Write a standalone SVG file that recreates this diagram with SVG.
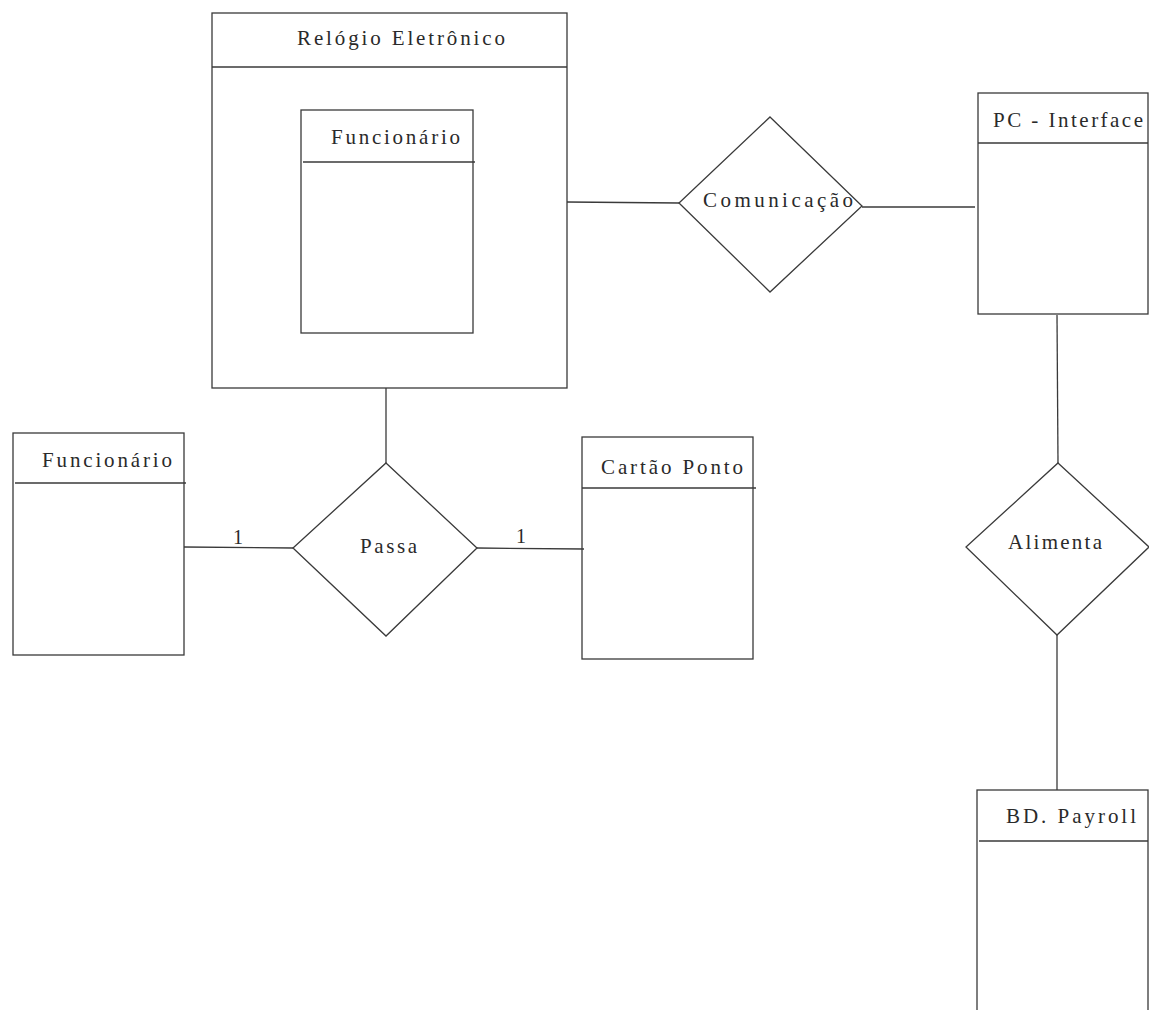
<svg xmlns="http://www.w3.org/2000/svg" width="1149" height="1010" viewBox="0 0 1149 1010">
<style>
.b{fill:none;stroke:#3a3a3a;stroke-width:1.3}
.c{fill:none;stroke:#3a3a3a;stroke-width:1.3}
.t{font-family:"Liberation Serif","Times New Roman",serif;font-size:21px;fill:#2a2a2a}
.n{font-family:"Liberation Serif","Times New Roman",serif;font-size:20px;fill:#2a2a2a}
</style>
<rect width="1149" height="1010" fill="#ffffff"/>
<g id="connectors">
<line class="c" x1="567" y1="202" x2="679" y2="203"/>
<line class="c" x1="862" y1="207" x2="975" y2="207"/>
<line class="c" x1="1057" y1="315" x2="1058" y2="463"/>
<line class="c" x1="1057" y1="635" x2="1057" y2="790"/>
<line class="c" x1="386" y1="388" x2="386" y2="463"/>
<line class="c" x1="184" y1="547" x2="293" y2="548"/>
<line class="c" x1="477" y1="548" x2="584" y2="549"/>
<text class="n" x="238" y="544" text-anchor="middle">1</text>
<text class="n" x="521" y="543" text-anchor="middle">1</text>
</g>
<g id="relogio">
<rect class="b" x="212" y="13" width="355" height="375"/>
<line class="b" x1="212" y1="67" x2="567" y2="67"/>
<text class="t" x="297" y="45" textLength="208" lengthAdjust="spacing">Relógio Eletrônico</text>
</g>
<g id="funcionario-inner">
<rect class="b" x="301" y="110" width="172" height="223"/>
<line class="b" x1="303" y1="162" x2="475" y2="162"/>
<text class="t" x="331" y="144" textLength="129" lengthAdjust="spacing">Funcionário</text>
</g>
<g id="comunicacao">
<polygon class="b" points="770,117 862,206 770,292 679,203"/>
<text class="t" x="703" y="207" textLength="150" lengthAdjust="spacing">Comunicação</text>
</g>
<g id="pc-interface">
<rect class="b" x="978" y="93" width="170" height="221"/>
<line class="b" x1="978" y1="143" x2="1148" y2="143"/>
<text class="t" x="993" y="127" textLength="150" lengthAdjust="spacing">PC - Interface</text>
</g>
<g id="alimenta">
<polygon class="b" points="1058,463 1149,547 1057,635 966,547"/>
<text class="t" x="1008" y="549" textLength="94" lengthAdjust="spacing">Alimenta</text>
</g>
<g id="bd-payroll">
<rect class="b" x="977" y="790" width="171" height="240"/>
<line class="b" x1="979" y1="841" x2="1148" y2="841"/>
<text class="t" x="1006" y="823" textLength="130" lengthAdjust="spacing">BD. Payroll</text>
</g>
<g id="funcionario">
<rect class="b" x="13" y="433" width="171" height="222"/>
<line class="b" x1="15" y1="483" x2="186" y2="483"/>
<text class="t" x="42" y="467" textLength="130" lengthAdjust="spacing">Funcionário</text>
</g>
<g id="passa">
<polygon class="b" points="386,463 477,548 386,636 293,548"/>
<text class="t" x="360" y="553" textLength="57" lengthAdjust="spacing">Passa</text>
</g>
<g id="cartao-ponto">
<rect class="b" x="582" y="437" width="171" height="222"/>
<line class="b" x1="582" y1="488" x2="756" y2="488"/>
<text class="t" x="601" y="474" textLength="142" lengthAdjust="spacing">Cartão Ponto</text>
</g>
</svg>
